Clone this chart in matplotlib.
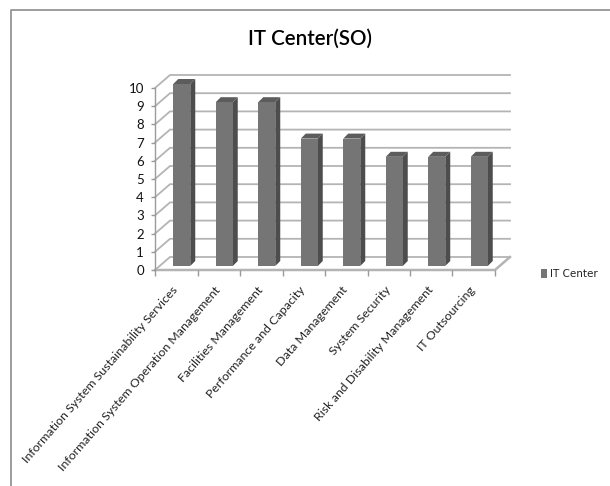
import matplotlib
matplotlib.use("Agg")
import matplotlib.pyplot as plt
from matplotlib.patches import Rectangle
from matplotlib.patches import Polygon
from matplotlib.lines import Line2D
from matplotlib.transforms import ScaledTranslation

categories = ["Information System Sustainability Services",
              "Information System Operation Management",
              "Facilities Management", "Performance and Capacity",
              "Data Management", "System Security",
              "Risk and Disability Management", "IT Outsourcing"]
values = [10, 9, 9, 7, 7, 6, 6, 6]
y_ticks = list(range(0, 11))
series_name = "IT Center"
title_text = "IT Center(SO)"

W, H = 610, 486
plt.rcParams['font.family'] = ['Lato', 'DejaVu Sans']
fig = plt.figure(figsize=(W / 100, H / 100), dpi=100, facecolor='white')
fig.add_artist(Line2D([11 / W, 11 / W, 1], [0, 1 - 10 / H, 1 - 10 / H], color='#8c8c8c', lw=1.2))

L, R, T, B = 155, 495, 88, 270
ax = fig.add_axes([L / W, 1 - B / H, (R - L) / W, (B - T) / H])
ax.set_xlim(-0.5, 7.5)
ax.set_ylim(0, 10)
ax.patch.set_visible(False)
for s in ax.spines.values():
    s.set_visible(False)

ux = (R - L) / 8      # px per category
uy = (B - T) / 10     # px per value
wx, wy = 15 / ux, 13 / uy   # wall depth
GRID = '#b4b4b4'
for v in y_ticks:
    ax.plot([-0.5, -0.5 + wx, 7.5 + wx], [v, v + wy, v + wy], color=GRID, lw=1.3,
            clip_on=False, zorder=1, solid_joinstyle='miter')
ax.plot([-0.5, 7.5, 7.5 + wx], [0, 0, wy], color=GRID, lw=1.8, clip_on=False, zorder=1)
ax.plot([-0.5, -0.5], [0, 10], color='#9a9a9a', lw=1, clip_on=False, zorder=1)

# bars: front face plus side and top faces
bx, bw = 5.5 / ux, 17 / ux
by = 4 / uy
sx, sy = 5 / ux, 5 / uy
for i, v in enumerate(values):
    x0 = i + bx - bw / 2
    x1 = x0 + bw
    ax.add_patch(Polygon([(x1, by), (x1 + sx, by + sy), (x1 + sx, v + by + sy), (x1, v + by)],
                         fc='#4d4d4d', ec='none', clip_on=False, zorder=3))
    ax.add_patch(Polygon([(x0, v + by), (x1, v + by), (x1 + sx, v + by + sy), (x0 + sx, v + by + sy)],
                         fc='#5c5c5c', ec='none', clip_on=False, zorder=3))
    ax.bar(i + bx, v, bw, bottom=by, color='#757575', clip_on=False, zorder=4)

ax.set_yticks(y_ticks)
ax.tick_params(axis='y', length=3, width=1, color='#9a9a9a', labelsize=9.5, labelcolor='#111111', pad=5)
ax.set_xticks([i - 0.5 for i in range(9)], minor=True)
ax.tick_params(axis='x', which='minor', length=4, width=1, color='#9a9a9a')
ax.set_xticks(range(8))
ax.set_xticklabels(categories, rotation=49, ha='right', rotation_mode='anchor',
                   fontsize=8.95, color='#222222')
ax.tick_params(axis='x', which='major', length=0, pad=7)
shift = ScaledTranslation(-4.5 / 100, -4.5 / 100, fig.dpi_scale_trans)
for lab in ax.get_xticklabels():
    lab.set_transform(lab.get_transform() + shift)

fig.text(310 / W, 1 - 39 / H, title_text, fontsize=14.8, ha='center', va='center',
         color='black', fontweight='semibold')
fig.add_artist(Rectangle((541 / W, 1 - 278 / H), 6 / W, 9 / H, transform=fig.transFigure,
                         fc='#757575', ec='none'))
fig.text(550 / W, 1 - 274 / H, series_name, fontsize=7.5, ha='left', va='center',
         color='#222222', family='DejaVu Sans')
fig.savefig('out.png', dpi=100)
